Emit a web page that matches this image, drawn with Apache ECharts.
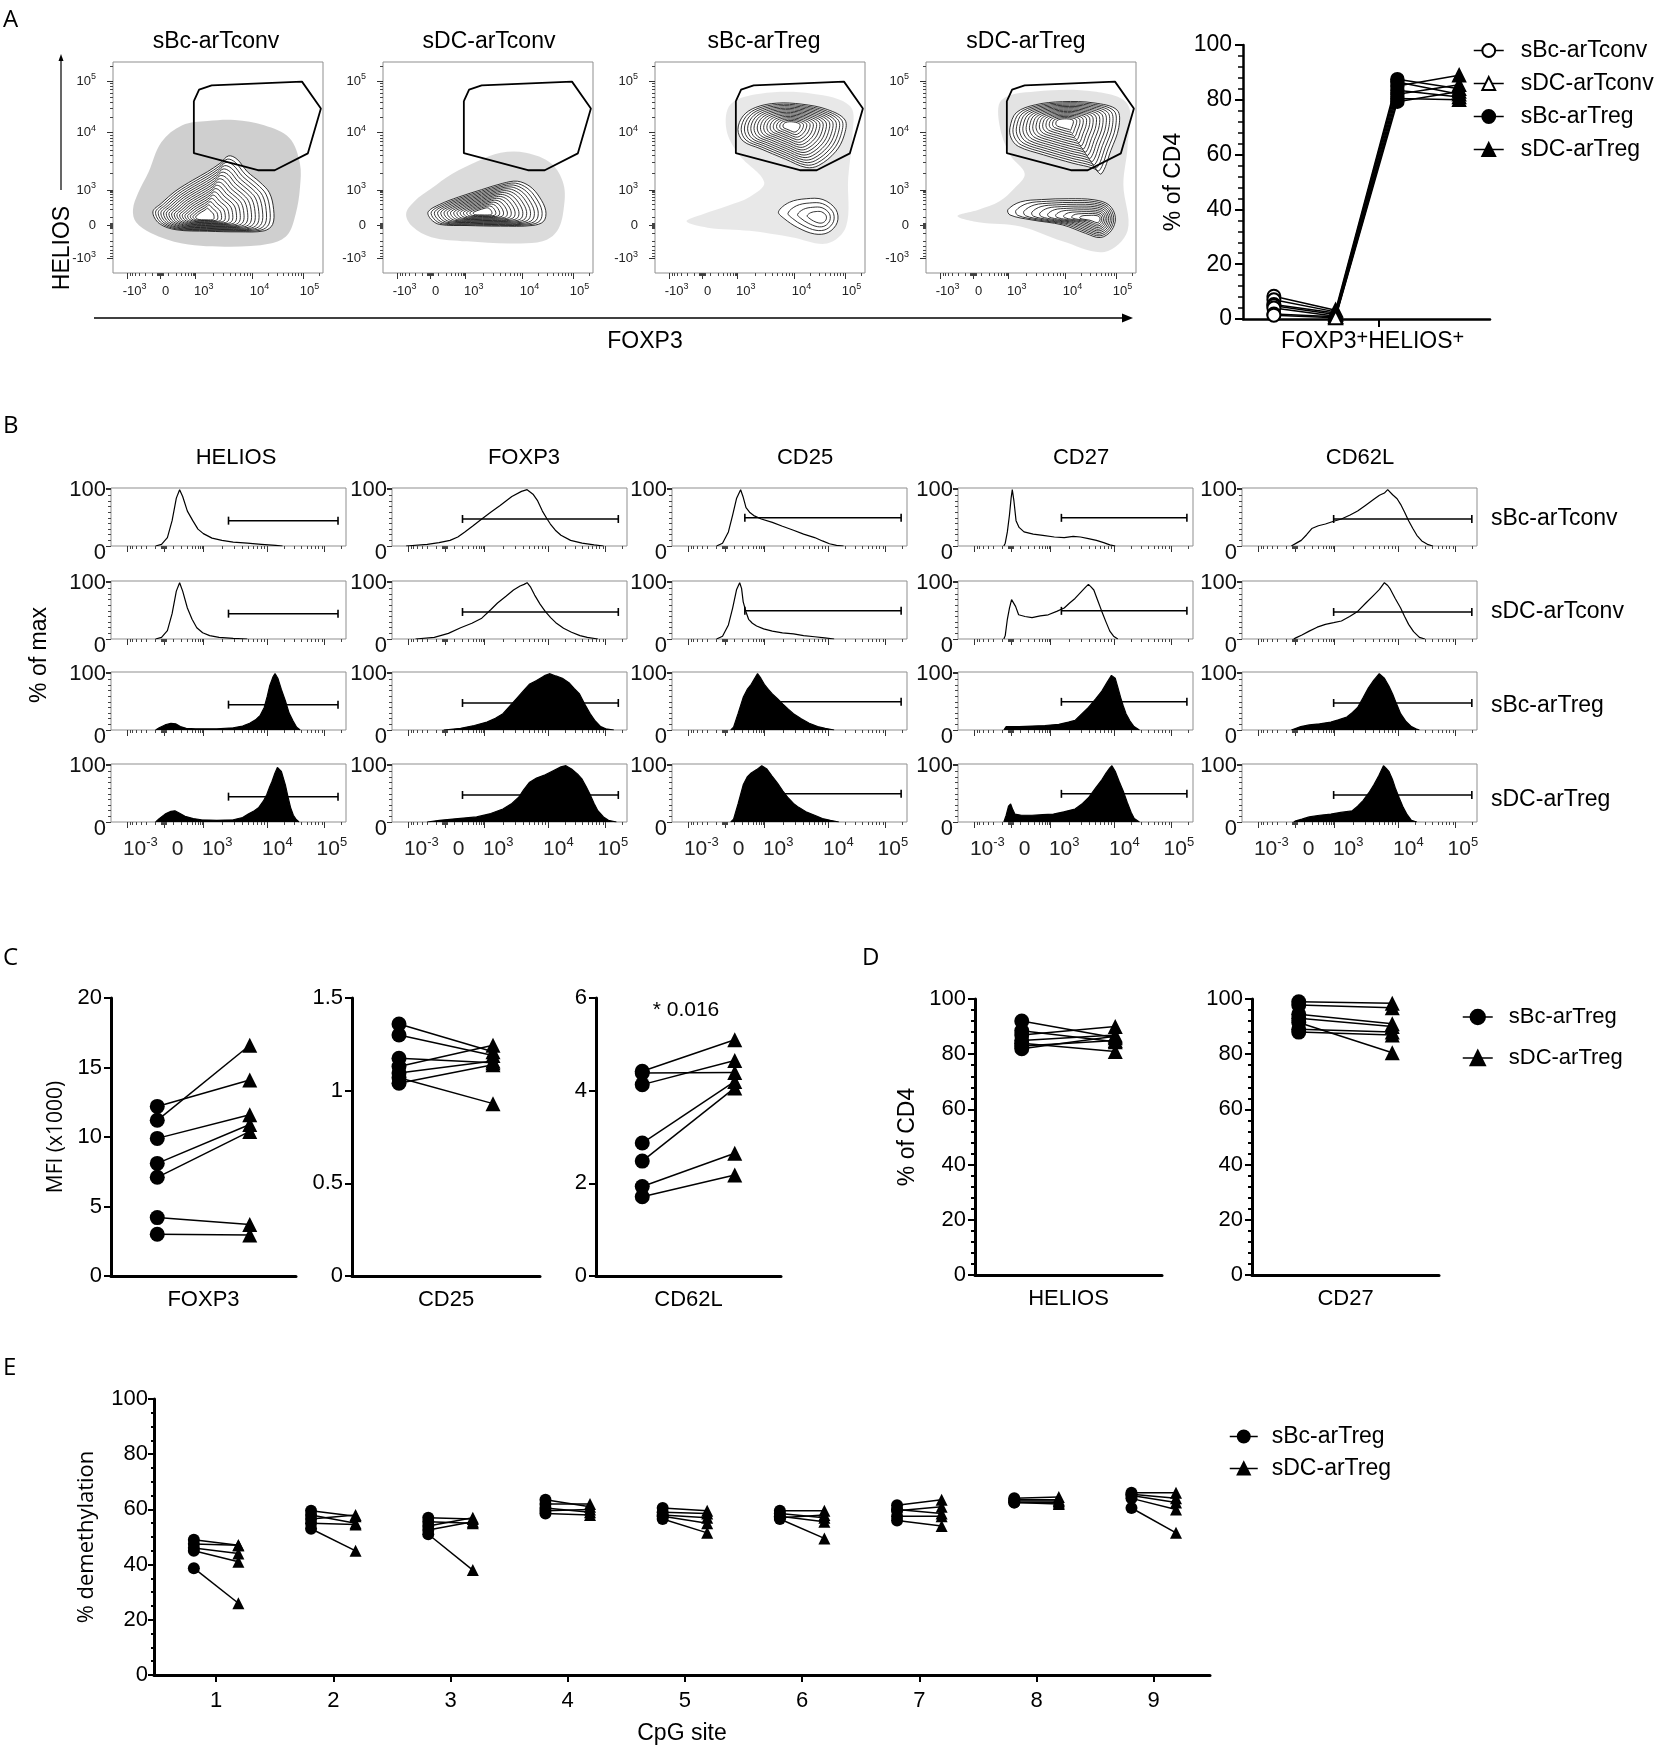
<!DOCTYPE html>
<html><head><meta charset="utf-8">
<script src="https://cdn.jsdelivr.net/npm/echarts@6/dist/echarts.min.js"></script>
<style>html,body{margin:0;padding:0;background:#fff}#c{width:1654px;height:1747px}</style>
</head><body><div id="c"></div><script>
// ================= DATA =================
// ---- Panel A : flow plots (display-scale units 0..1000 on both axes) ----
const flowTitles = ['sBc-arTconv', 'sDC-arTconv', 'sBc-arTreg', 'sDC-arTreg'];
const flowTickLabels = ['-10{s|3}', '0', '10{s|3}', '10{s|4}', '10{s|5}'];
const flowTickPos = [68, 226, 393, 665, 908];
const flowLabelPosX = [103, 250, 432, 698, 936];
const flowMinorPos = [80, 92, 107, 127, 152, 187, 212, 215, 218, 221, 224, 228, 231, 234, 237, 265, 300, 325, 345, 360, 372, 381, 388,
  475, 523, 557, 583, 605, 623, 639, 653, 738, 781, 811, 835, 854, 870, 884, 897, 981];
const flowGate = [[385, 815], [410, 869], [470, 889], [900, 907], [990, 780], [928, 567], [770, 487], [690, 487], [385, 568], [385, 815]];
const flowPopPlot = [0, 1, 2, 2, 3, 3];
const flowPopLevels = [17, 15, 15, 4, 15, 10];
const flowPopCore = [[430, 262], [470, 285], [650, 700], [790, 262], [660, 715], [812, 255]];
const flowPopOutline = [
  [[190, 290], [230, 330], [300, 390], [380, 440], [450, 480], [510, 520], [550, 555], [590, 540], [640, 480], [700, 430], [745, 380], [765, 300], [760, 230], [720, 200], [600, 195], [450, 198], [300, 205], [220, 235]],
  [[215, 290], [270, 325], [360, 360], [470, 395], [570, 425], [640, 435], [700, 410], [745, 360], [775, 295], [765, 245], [710, 225], [560, 222], [400, 225], [270, 230], [228, 255]],
  [[395, 680], [420, 745], [480, 785], [580, 805], [700, 800], [820, 775], [905, 725], [900, 650], [860, 575], [780, 510], [720, 500], [620, 540], [500, 590], [420, 625]],
  [[588, 290], [640, 335], [720, 352], [800, 348], [862, 300], [868, 240], [825, 192], [760, 185], [680, 215], [615, 258]],
  [[400, 690], [430, 760], [520, 797], [650, 812], [800, 806], [910, 772], [918, 690], [880, 580], [835, 470], [800, 495], [700, 520], [560, 560], [440, 600], [405, 640]],
  [[390, 300], [450, 337], [550, 348], [680, 352], [800, 347], [872, 322], [902, 262], [882, 200], [830, 168], [760, 188], [650, 228], [500, 252], [400, 275]]
];
const flowCloud = [
  [[95, 300], [120, 380], [170, 480], [230, 620], [330, 700], [450, 720], [580, 725], [720, 700], [840, 640], [890, 520], [890, 400], [870, 280], [830, 180], [750, 140], [560, 125], [330, 140], [180, 190], [110, 240]],
  [[110, 280], [150, 340], [230, 400], [330, 470], [450, 530], [560, 570], [680, 570], [800, 520], [860, 420], [860, 300], [830, 200], [760, 150], [600, 140], [400, 150], [230, 170], [140, 220]],
  [[150, 245], [230, 280], [350, 320], [450, 360], [520, 430], [400, 560], [340, 680], [360, 800], [500, 850], [750, 850], [930, 790], [940, 650], [920, 450], [910, 220], [820, 140], [650, 170], [450, 200], [250, 215]],
  [[150, 270], [250, 300], [350, 340], [420, 400], [470, 470], [400, 560], [350, 700], [360, 820], [520, 860], [800, 860], [960, 800], [960, 600], [940, 420], [960, 200], [850, 100], [650, 150], [450, 220], [250, 240]]
];
// ---- Panel A right : % of CD4 FOXP3+HELIOS+ ----
const pctConds = ['sBc-arTconv', 'sDC-arTconv', 'sBc-arTreg', 'sDC-arTreg'];
const pctDonors = [
  [8.3, 3.2, 87.5, 84], [7.0, 2.6, 86.5, 82], [5.3, 2.2, 85, 89], [4.8, 1.6, 83.5, 81],
  [4.0, 1.0, 82, 85.5], [1.8, 0.8, 80.5, 80], [1.4, 0.5, 79.3, 83]
];
// ---- Panel B : histograms [display-scale, % of max] ----
const histMarkers = ['HELIOS', 'FOXP3', 'CD25', 'CD27', 'CD62L'];
const histGroups = ['sBc-arTconv', 'sDC-arTconv', 'sBc-arTreg', 'sDC-arTreg'];
const histTickLabels = ['10{s|-3}', '0', '10{s|3}', '10{s|4}', '10{s|5}'];
const histLabelPos = [125, 283, 452, 708, 940];
const histHELIOS = [
  [[190, 0], [215, 3], [240, 15], [260, 45], [278, 85], [292, 100], [305, 88], [325, 62], [348, 45], [370, 30], [393, 22], [430, 14], [472, 10], [520, 7], [580, 5], [640, 3], [700, 1], [730, 0]],
  [[190, 0], [215, 3], [240, 15], [260, 45], [278, 85], [292, 100], [305, 85], [325, 55], [345, 35], [365, 20], [390, 11], [420, 6], [460, 3], [520, 1], [580, 0]],
  [[190, 0], [205, 4], [230, 9], [255, 12], [275, 11], [295, 6], [320, 3], [360, 2], [450, 2], [520, 4], [560, 7], [590, 12], [615, 18], [635, 26], [652, 40], [665, 60], [675, 78], [690, 95], [698, 100], [710, 92], [725, 72], [742, 52], [758, 30], [775, 16], [790, 5], [805, 0]],
  [[190, 0], [205, 6], [230, 14], [255, 19], [272, 20], [290, 16], [315, 10], [350, 6], [385, 4], [450, 3], [520, 4], [560, 8], [584, 14], [610, 20], [629, 26], [648, 37], [663, 49], [675, 62], [685, 72], [697, 86], [708, 97], [715, 100], [725, 90], [742, 66], [753, 45], [764, 26], [776, 12], [787, 5], [800, 0]]
];
const histFOXP3 = [
  [[60, 0], [150, 3], [200, 6], [247, 10], [280, 16], [310, 25], [345, 36], [382, 48], [420, 60], [460, 72], [510, 88], [551, 97], [575, 100], [600, 92], [620, 80], [640, 62], [660, 48], [674, 39], [695, 28], [719, 19], [760, 10], [809, 5], [860, 2], [900, 0]],
  [[100, 0], [180, 3], [240, 10], [292, 20], [340, 28], [382, 37], [420, 52], [449, 64], [485, 76], [517, 87], [545, 94], [562, 97], [575, 100], [590, 92], [607, 78], [630, 62], [652, 49], [675, 38], [697, 29], [730, 19], [764, 12], [800, 6], [831, 3], [876, 0]],
  [[220, 0], [292, 3], [350, 8], [404, 14], [440, 21], [472, 29], [500, 42], [528, 55], [556, 68], [584, 81], [615, 88], [640, 94], [652, 97], [670, 100], [697, 96], [725, 92], [753, 84], [775, 74], [798, 64], [820, 46], [843, 29], [865, 16], [888, 6], [910, 2], [944, 0]],
  [[150, 0], [202, 3], [280, 6], [360, 9], [420, 15], [472, 23], [510, 33], [539, 44], [560, 57], [584, 70], [615, 78], [652, 84], [690, 92], [719, 98], [740, 100], [764, 94], [790, 85], [809, 76], [826, 63], [843, 49], [860, 33], [876, 20], [900, 9], [921, 3], [955, 0]]
];
const histCD25 = [
  [[190, 0], [215, 5], [240, 25], [258, 55], [275, 85], [292, 100], [302, 88], [315, 68], [330, 60], [348, 54], [380, 48], [427, 42], [470, 35], [517, 28], [560, 21], [607, 15], [640, 9], [670, 4], [700, 1], [730, 0]],
  [[190, 0], [215, 5], [240, 25], [258, 55], [275, 88], [288, 100], [296, 90], [303, 66], [315, 48], [326, 35], [342, 28], [360, 23], [390, 18], [427, 14], [470, 11], [517, 9], [560, 6], [607, 4], [650, 2], [690, 0]],
  [[250, 0], [262, 5], [281, 29], [303, 58], [320, 72], [337, 81], [352, 92], [364, 100], [378, 92], [393, 81], [410, 72], [427, 64], [450, 55], [472, 46], [495, 37], [517, 29], [550, 20], [584, 12], [620, 6], [652, 3], [690, 0]],
  [[250, 0], [262, 5], [281, 32], [303, 66], [320, 80], [337, 87], [360, 93], [382, 100], [404, 94], [425, 82], [449, 69], [472, 55], [494, 43], [517, 33], [539, 26], [570, 18], [607, 12], [640, 6], [674, 3], [710, 0]]
];
const histCD27 = [
  [[195, 0], [201, 5], [210, 25], [219, 55], [226, 85], [231, 100], [238, 80], [247, 45], [260, 33], [281, 25], [320, 21], [361, 19], [410, 16], [452, 15], [490, 17], [521, 16], [555, 13], [589, 10], [620, 6], [646, 2], [669, 0]],
  [[195, 0], [201, 6], [210, 35], [219, 55], [228, 70], [235, 72], [245, 58], [258, 43], [285, 40], [315, 38], [350, 41], [384, 43], [420, 49], [452, 55], [475, 64], [498, 72], [520, 82], [543, 92], [555, 97], [565, 93], [578, 87], [595, 68], [612, 49], [630, 30], [646, 14], [662, 5], [680, 0]],
  [[195, 0], [205, 6], [260, 6], [315, 7], [370, 8], [429, 10], [470, 14], [498, 17], [520, 26], [555, 40], [585, 55], [612, 69], [635, 85], [653, 97], [660, 100], [669, 92], [680, 76], [692, 58], [703, 43], [715, 29], [732, 16], [749, 6], [772, 0]],
  [[195, 0], [205, 12], [215, 28], [224, 32], [233, 22], [242, 14], [270, 12], [315, 12], [360, 13], [406, 14], [450, 18], [498, 23], [530, 33], [555, 43], [585, 60], [612, 75], [630, 87], [646, 96], [655, 100], [669, 90], [686, 72], [703, 55], [720, 35], [737, 17], [750, 6], [772, 0]]
];
const histCD62L = [
  [[210, 0], [217, 3], [235, 6], [252, 10], [275, 20], [297, 31], [325, 36], [355, 39], [390, 44], [423, 48], [460, 55], [492, 62], [525, 72], [561, 83], [585, 90], [606, 94], [620, 100], [641, 91], [660, 84], [675, 74], [692, 60], [709, 45], [727, 31], [744, 19], [765, 9], [789, 3], [812, 0]],
  [[220, 0], [229, 2], [255, 7], [286, 14], [320, 21], [355, 26], [390, 29], [423, 32], [458, 40], [492, 49], [525, 63], [561, 78], [585, 88], [606, 100], [620, 95], [629, 90], [652, 72], [675, 55], [692, 40], [709, 26], [730, 13], [755, 3], [778, 0]],
  [[210, 0], [217, 2], [250, 6], [286, 9], [330, 11], [378, 14], [410, 18], [446, 23], [470, 31], [492, 40], [515, 57], [538, 75], [560, 88], [584, 100], [606, 92], [625, 78], [641, 64], [658, 46], [675, 29], [698, 15], [721, 6], [740, 2], [755, 0]],
  [[220, 0], [229, 2], [255, 5], [286, 9], [330, 12], [378, 14], [420, 17], [469, 20], [492, 28], [515, 38], [540, 52], [561, 66], [583, 83], [602, 100], [614, 95], [625, 90], [640, 76], [652, 61], [668, 44], [686, 26], [703, 13], [721, 3], [744, 0]]
];
const histGates = [[500, 966, 45], [300, 963, 48], [310, 975, 50], [440, 974, 50], [390, 978, 48]];
// ---- Panel C : MFI (x1000) ----
const mfiMarkers = ['FOXP3', 'CD25', 'CD62L'];
const mfiMax = [20, 1.5, 6];
const mfiStep = [5, 0.5, 2];
const mfiBc = [[12.2, 11.2, 9.9, 8.1, 7.1, 4.2, 3.0], [1.36, 1.30, 1.175, 1.13, 1.095, 1.07, 1.04], [4.42, 4.38, 4.13, 2.87, 2.48, 1.93, 1.71]];
const mfiDc = [[14.1, 16.6, 11.6, 10.9, 10.4, 3.7, 2.95], [1.21, 1.19, 1.15, 1.245, 1.16, 0.93, 1.14], [5.1, 4.39, 4.65, 4.2, 4.06, 2.65, 2.18]];
// ---- Panel D : % of CD4 ----
const cd4Markers = ['HELIOS', 'CD27'];
const cd4Bc = [[92, 88.5, 87, 85, 84, 83, 82], [99, 97.8, 94.5, 93, 91.5, 89, 88]];
const cd4Dc = [[86, 84.5, 90, 87, 81, 85, 86.5], [98.5, 96.8, 91, 90, 80.5, 88, 87]];
// ---- Panel E : % demethylation per CpG site ----
const cpgSites = [1, 2, 3, 4, 5, 6, 7, 8, 9];
const demethBc = [[49, 47.5, 46, 45, 38.7], [59.5, 58, 56.5, 55, 53], [57, 55.5, 54, 52.5, 51], [63.5, 62, 60.5, 59.5, 58.5],
  [60.5, 59, 58, 57.5, 56.5], [59.5, 58.5, 57.5, 57, 56.5], [61.5, 60, 59.5, 57.5, 56], [64, 63.5, 63, 62.5, 62.5], [66, 65.5, 65, 64, 60.5]];
const demethDc = [[47, 47, 44, 41, 26], [57.5, 55, 58, 54.5, 45], [56.5, 55, 57, 55.5, 38], [61, 62, 59, 60, 58],
  [59.5, 58.5, 57, 55, 51.5], [59.5, 57, 55.5, 58, 49.5], [63.5, 58.5, 61, 57.5, 54], [64.5, 63.5, 63, 62.5, 62], [66, 64, 62.5, 60, 51.5]];

// ================= BUILD =================
const FONT = "'Liberation Sans', Arial, Helvetica, sans-serif";
const OPEN = "'Open Sans', 'Liberation Sans', sans-serif";
const grids = [], xAxis = [], yAxis = [], series = [], graphic = [];
function addGrid(l, t, w, h, frame) {
  grids.push({ left: l, top: t, width: w, height: h, show: !!frame, borderColor: '#8f8f8f', borderWidth: 1, backgroundColor: 'rgba(0,0,0,0)' });
  return grids.length - 1;
}
function addX(o) { xAxis.push(o); return xAxis.length - 1; }
function addY(o) { yAxis.push(o); return yAxis.length - 1; }
const supRich = (sfs, col) => ({ s: { fontSize: sfs, fontFamily: FONT, color: col, verticalAlign: 'top', lineHeight: sfs + 1 } });
const labelFrom = (pos, labels) => (v) => { const i = pos.indexOf(v); return i >= 0 ? labels[i] : ''; };
function tickAxis(g, dir, majorPos, labelPos, labels, opts) {
  const base = { type: 'value', gridIndex: g, min: 0, max: 1000, position: dir, axisLine: { show: false }, splitLine: { show: false } };
  const major = Object.assign({}, base, {
    axisTick: { show: true, customValues: majorPos, length: opts.tick, lineStyle: { color: '#333', width: 1 } },
    axisLabel: labelPos ? { show: true, customValues: labelPos, formatter: labelFrom(labelPos, labels), margin: opts.margin, fontSize: opts.fs, lineHeight: opts.lh, fontFamily: FONT, color: '#222', rich: supRich(opts.sfs, '#222') } : { show: false }
  });
  const minor = Object.assign({}, base, {
    axisTick: { show: true, customValues: flowMinorPos, length: opts.minor, lineStyle: { color: '#444', width: 1 } },
    axisLabel: { show: false }
  });
  if (dir === 'bottom') { const i = addX(major); addX(minor); return i; }
  const i = addY(major); addY(minor); return i;
}
function text(x, y, str, fs, opt) {
  opt = opt || {};
  graphic.push({ type: 'text', x: x, y: y, rotation: opt.rot || 0, silent: true, z: 50,
    style: { text: str, fill: '#000', fontSize: fs, fontFamily: opt.font || FONT, align: opt.align || 'center', verticalAlign: 'middle', rich: opt.rich } });
}

// ---------- Panel A flow plots ----------
const flowLeft = [113, 383, 655, 926];
const cloudAlpha = [0.19, 0.14, 0.09, 0.11];
flowTitles.forEach((t, p) => {
  const g = addGrid(flowLeft[p], 62, 210, 211, true);
  const opt = { tick: 6, minor: 3, fs: 13, sfs: 9, lh: 18 };
  const xi = tickAxis(g, 'bottom', flowTickPos, flowLabelPosX, flowTickLabels, Object.assign({ margin: 9 }, opt));
  const yi = tickAxis(g, 'left', flowTickPos, flowTickPos, flowTickLabels, Object.assign({ margin: 17 }, opt));
  series.push({ type: 'custom', xAxisIndex: xi, yAxisIndex: yi, silent: true, z: 1, data: [[500, 500]],
    renderItem: (params, api) => ({ type: 'polygon', shape: { points: flowCloud[p].map(q => api.coord(q)), smooth: 0.35 }, style: { fill: 'rgba(0,0,0,' + cloudAlpha[p] + ')', stroke: 'none' } }) });
  flowPopPlot.forEach((pp, k) => {
    if (pp !== p) return;
    series.push({ type: 'custom', xAxisIndex: xi, yAxisIndex: yi, silent: true, z: 2, data: [flowPopCore[k]],
      renderItem: (params, api) => {
        const c = flowPopCore[k], L = flowPopLevels[k], out = flowPopOutline[k], ch = [];
        for (let j = 0; j < L; j++) {
          const s = 1 - j / L * 0.9;
          const pts = out.map(q => api.coord([c[0] + (q[0] - c[0]) * s, c[1] + (q[1] - c[1]) * s]));
          ch.push({ type: 'polygon', shape: { points: pts, smooth: 0.35 }, style: { fill: j === 0 ? '#fff' : 'none', stroke: '#111', lineWidth: 0.85 } });
        }
        return { type: 'group', children: ch };
      } });
  });
  series.push({ type: 'line', xAxisIndex: xi, yAxisIndex: yi, data: flowGate, symbol: 'none', silent: true, z: 3, lineStyle: { color: '#000', width: 1.8 } });
  text([216, 489, 764, 1026][p], 42, t, 23);
});
text(63, 248, 'HELIOS', 23, { rot: Math.PI / 2 });
text(645, 342, 'FOXP3', 23);
graphic.push({ type: 'line', shape: { x1: 94, y1: 318, x2: 1124, y2: 318 }, style: { stroke: '#000', lineWidth: 1.5 }, silent: true });
graphic.push({ type: 'polygon', shape: { points: [[1133, 318], [1122, 313.5], [1122, 322.5]] }, style: { fill: '#000' }, silent: true });
graphic.push({ type: 'line', shape: { x1: 61, y1: 190, x2: 61, y2: 60 }, style: { stroke: '#000', lineWidth: 1.2 }, silent: true });
graphic.push({ type: 'polygon', shape: { points: [[61, 54], [58.5, 61], [63.5, 61]] }, style: { fill: '#000' }, silent: true });

// ---------- Panel A right ----------
(function () {
  const g = addGrid(1243, 45, 247, 274, false);
  const xi = addX({ type: 'value', gridIndex: g, min: 0, max: 4, splitLine: { show: false },
    axisLine: { show: true, lineStyle: { color: '#000', width: 2.5 } },
    axisTick: { show: true, customValues: [2.2], length: 8, lineStyle: { color: '#000', width: 2 } },
    axisLabel: { show: true, customValues: [2.1], margin: 9, fontSize: 23, lineHeight: 28, fontFamily: FONT, color: '#000',
      formatter: () => 'FOXP3{s|+}HELIOS{s|+}', rich: { s: { fontSize: 20, fontFamily: FONT, color: '#000', verticalAlign: 'top', lineHeight: 18 } } } });
  const yi = addY({ type: 'value', gridIndex: g, min: 0, max: 100, interval: 20, splitLine: { show: false },
    axisLine: { show: true, lineStyle: { color: '#000', width: 2.5 } },
    axisTick: { show: true, length: 8, lineStyle: { color: '#000', width: 2 } },
    minorTick: { show: true, splitNumber: 5, length: 5, lineStyle: { color: '#000', width: 1.5 } },
    axisLabel: { fontSize: 23, margin: 11, color: '#000', fontFamily: FONT },
    name: '% of CD4', nameLocation: 'middle', nameGap: 58, nameTextStyle: { fontSize: 23, fontFamily: FONT, color: '#000' } });
  pctDonors.forEach(d => series.push({ type: 'line', xAxisIndex: xi, yAxisIndex: yi, silent: true, symbol: 'none', z: 3,
    data: d.map((v, i) => [i + 0.5, v]), lineStyle: { color: '#000', width: 1.5 } }));
  const syms = ['emptyCircle', 'emptyTriangle', 'circle', 'triangle'];
  pctConds.forEach((c, i) => series.push({ type: 'line', name: c, xAxisIndex: xi, yAxisIndex: yi, silent: true, z: 5,
    data: pctDonors.map(d => [i + 0.5, d[i]]), symbol: syms[i], symbolSize: 13,
    itemStyle: { color: '#000', borderColor: '#000', borderWidth: 1.5 }, lineStyle: { opacity: 0 } }));
})();

// ---------- Panel B histograms ----------
const histLeft = [111, 392, 672, 958, 1242], histTop = [488, 581, 672, 764];
const histData = [histHELIOS, histFOXP3, histCD25, histCD27, histCD62L];
const histTitleX = [236, 524, 805, 1081, 1360];
histMarkers.forEach((m, c) => {
  text(histTitleX[c], 458, m, 22);
  histGroups.forEach((gname, r) => {
    const g = addGrid(histLeft[c], histTop[r], 235, 58, true);
    const xi = tickAxis(g, 'bottom', flowTickPos, r === 3 ? histLabelPos : null, histTickLabels, { tick: 6, minor: 3, fs: 21, sfs: 13, lh: 26, margin: 14 });
    const yi = addY({ type: 'value', gridIndex: g, min: 0, max: 103, interval: 100, axisLine: { show: false }, splitLine: { show: false },
      axisTick: { show: true, length: 5, lineStyle: { color: '#333' } },
      minorTick: { show: true, splitNumber: 10, length: 3, lineStyle: { color: '#444' } },
      axisLabel: { fontSize: 22, margin: 5, color: '#111', fontFamily: FONT, formatter: v => v === 0 ? '{z|0}' : '100',
        rich: { z: { fontSize: 22, fontFamily: FONT, color: '#111', padding: [14, 0, 0, 0] } } } });
    const s = { type: 'line', xAxisIndex: xi, yAxisIndex: yi, data: histData[c][r], symbol: 'none', silent: true, z: 2,
      lineStyle: { color: '#000', width: 1.2 } };
    if (r >= 2) s.areaStyle = { color: '#000', opacity: 1 };
    series.push(s);
    const gt = histGates[c];
    series.push({ type: 'line', xAxisIndex: xi, yAxisIndex: yi, silent: true, z: 3, data: [[gt[0], gt[2]], [gt[1], gt[2]]],
      symbol: 'rect', symbolSize: [1.6, 8], itemStyle: { color: '#000' }, lineStyle: { color: '#000', width: 1.5 } });
    if (c === 4) text(1491, [519, 612, 706, 800][r], gname, 23, { align: 'left' });
  });
});
text(40, 655, '% of max', 23, { rot: Math.PI / 2 });

// ---------- helpers for paired plots ----------
function pairs(xi, yi, a, b, xa, xb) {
  a.forEach((v, k) => series.push({ type: 'line', xAxisIndex: xi, yAxisIndex: yi, silent: true, symbol: 'none', z: 3,
    data: [[xa, v], [xb, b[k]]], lineStyle: { color: '#000', width: 1.5 } }));
}
function markers(xi, yi, ptsA, ptsB, size) {
  series.push({ type: 'line', name: 'sBc-arTreg', xAxisIndex: xi, yAxisIndex: yi, silent: true, z: 5, data: ptsA,
    symbol: 'circle', symbolSize: size, itemStyle: { color: '#000' }, lineStyle: { opacity: 0 } });
  series.push({ type: 'line', name: 'sDC-arTreg', xAxisIndex: xi, yAxisIndex: yi, silent: true, z: 5, data: ptsB,
    symbol: 'triangle', symbolSize: size, itemStyle: { color: '#000' }, lineStyle: { opacity: 0 } });
}
function pairAxes(g, name, max, step, minor, yname, ynameGap, ynameFont, ynameSize) {
  const xi = addX({ type: 'value', gridIndex: g, min: 0, max: 1, splitLine: { show: false },
    axisLine: { show: true, lineStyle: { color: '#000', width: 3 } }, axisTick: { show: false }, axisLabel: { show: false },
    name: name, nameLocation: 'middle', nameGap: 13, nameTextStyle: { fontSize: 22, fontFamily: FONT, color: '#000' } });
  const yi = addY({ type: 'value', gridIndex: g, min: 0, max: max, interval: step, splitLine: { show: false },
    axisLine: { show: true, lineStyle: { color: '#000', width: 3 } },
    axisTick: { show: true, length: 7, lineStyle: { color: '#000', width: 2 } },
    minorTick: minor ? { show: true, splitNumber: minor, length: 4, lineStyle: { color: '#000', width: 2 } } : { show: false },
    axisLabel: { fontSize: 22, margin: 9, color: '#000', fontFamily: FONT },
    name: yname || '', nameLocation: 'middle', nameGap: ynameGap || 50, nameTextStyle: { fontSize: ynameSize || 22, fontFamily: ynameFont || FONT, color: '#000' } });
  return [xi, yi];
}

// ---------- Panel C ----------
const mfiLeft = [111, 352, 596], mfiW = [185, 188, 185];
mfiMarkers.forEach((m, i) => {
  const g = addGrid(mfiLeft[i], 998, mfiW[i], 278, false);
  const [xi, yi] = pairAxes(g, m, mfiMax[i], mfiStep[i], 0, i === 0 ? 'MFI (x1000)' : '', 44, OPEN, 21);
  pairs(xi, yi, mfiBc[i], mfiDc[i], 0.25, 0.75);
  markers(xi, yi, mfiBc[i].map(v => [0.25, v]), mfiDc[i].map(v => [0.75, v]), 15);
});
text(686, 1010, '* 0.016', 21);

// ---------- Panel D ----------
const cd4Left = [975, 1252];
cd4Markers.forEach((m, i) => {
  const g = addGrid(cd4Left[i], 999, 187, 276, false);
  const [xi, yi] = pairAxes(g, m, 100, 20, 5, i === 0 ? '% of CD4' : '', 56, FONT, 23);
  pairs(xi, yi, cd4Bc[i], cd4Dc[i], 0.25, 0.75);
  markers(xi, yi, cd4Bc[i].map(v => [0.25, v]), cd4Dc[i].map(v => [0.75, v]), 15);
});

// ---------- Panel E ----------
(function () {
  const g = addGrid(154, 1399, 1056, 276, false);
  const xi = addX({ type: 'value', gridIndex: g, min: 0.47, max: 9.48, splitLine: { show: false },
    axisLine: { show: true, lineStyle: { color: '#000', width: 3 } },
    axisTick: { show: true, customValues: cpgSites, length: 7, lineStyle: { color: '#000', width: 2 } },
    axisLabel: { show: true, customValues: cpgSites, margin: 15, fontSize: 22, fontFamily: FONT, color: '#000' },
    name: 'CpG site', nameLocation: 'middle', nameGap: 47, nameTextStyle: { fontSize: 23, fontFamily: FONT, color: '#000' } });
  const yi = addY({ type: 'value', gridIndex: g, min: 0, max: 100, interval: 20, splitLine: { show: false },
    axisLine: { show: true, lineStyle: { color: '#000', width: 3 } },
    axisTick: { show: true, length: 6, lineStyle: { color: '#000', width: 2 } },
    minorTick: { show: true, splitNumber: 4, length: 3, lineStyle: { color: '#000', width: 2 } },
    axisLabel: { fontSize: 22, margin: 6, color: '#000', fontFamily: FONT },
    name: '% demethylation', nameLocation: 'middle', nameGap: 56, nameTextStyle: { fontSize: 22, fontFamily: OPEN, color: '#000' } });
  const ptsA = [], ptsB = [];
  cpgSites.forEach((s, si) => {
    pairs(xi, yi, demethBc[si], demethDc[si], s - 0.19, s + 0.19);
    demethBc[si].forEach(v => ptsA.push([s - 0.19, v]));
    demethDc[si].forEach(v => ptsB.push([s + 0.19, v]));
  });
  markers(xi, yi, ptsA, ptsB, 12);
})();

// panel letters
text(3, 20, 'A', 24, { align: 'left', font: OPEN });
text(3, 426, 'B', 24, { align: 'left', font: OPEN });
text(3, 958, 'C', 24, { align: 'left', font: OPEN });
text(862, 958, 'D', 24, { align: 'left', font: OPEN });
text(3, 1368, 'E', 24, { align: 'left', font: OPEN });

const legBase = { orient: 'vertical', padding: 0, selectedMode: false,
  lineStyle: { color: '#000', width: 1.5, opacity: 1, type: 'solid' } };
const chart = echarts.init(document.getElementById('c'), null, { renderer: 'canvas', width: 1654, height: 1747 });
chart.setOption({
  backgroundColor: '#fff',
  animation: false,
  textStyle: { fontFamily: FONT },
  grid: grids, xAxis: xAxis, yAxis: yAxis, series: series, graphic: graphic,
  legend: [
    Object.assign({}, legBase, { data: pctConds, left: 1473, top: 39, itemWidth: 30, itemHeight: 16, itemGap: 10,
      textStyle: { fontSize: 23, fontFamily: FONT, color: '#000', padding: [0, 0, 0, 12] } }),
    Object.assign({}, legBase, { data: ['sBc-arTreg', 'sDC-arTreg'], left: 1462, top: 1006, itemWidth: 30, itemHeight: 18, itemGap: 19,
      textStyle: { fontSize: 22, fontFamily: FONT, color: '#000', padding: [0, 0, 0, 11] } }),
    Object.assign({}, legBase, { data: ['sBc-arTreg', 'sDC-arTreg'], left: 1229, top: 1425, itemWidth: 28, itemHeight: 15, itemGap: 9,
      textStyle: { fontSize: 23, fontFamily: FONT, color: '#000', padding: [0, 0, 0, 9] } })
  ]
});
</script></body></html>
